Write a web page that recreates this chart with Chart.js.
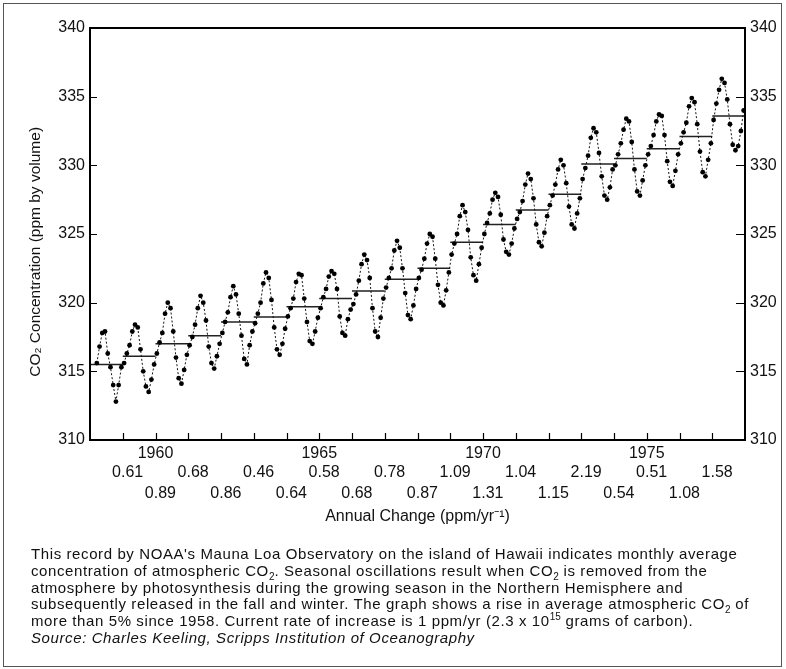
<!DOCTYPE html>
<html lang="en">
<head>
    <meta charset="UTF-8">
    <title>Mauna Loa CO2 Record</title>
    <script src="https://cdn.jsdelivr.net/npm/chart.js"></script>
    <style>
        body { margin: 0; background: #fff; }
        .figure { position: relative; width: 786px; height: 669px; }
        .border { position: absolute; left: 3px; top: 3px; width: 779px; height: 664px; border: 1px solid #555; box-sizing: border-box; }
        #co2Chart { position: absolute; left: 0; top: 0; }
        .caption { position: absolute; left: 31px; top: 546px; font: 15px "Liberation Sans", Arial, sans-serif; letter-spacing: 0.6px; line-height: 16.8px; color: #111; white-space: nowrap; }
        .caption sub, .caption sup { font-size: 10px; line-height: 0; letter-spacing: 0; }
    </style>
</head>
<body>
    <div class="figure">
        <canvas id="co2Chart" width="786" height="669"></canvas>
        <div class="border"></div>
        <div class="caption">
            <div>This record by NOAA's Mauna Loa Observatory on the island of Hawaii indicates monthly average</div>
            <div>concentration of atmospheric CO<sub>2</sub>. Seasonal oscillations result when CO<sub>2</sub> is removed from the</div>
            <div>atmosphere by photosynthesis during the growing season in the Northern Hemisphere and</div>
            <div>subsequently released in the fall and winter. The graph shows a rise in average atmospheric CO<sub>2</sub> of</div>
            <div>more than 5% since 1958. Current rate of increase is 1 ppm/yr (2.3 x 10<sup>15</sup> grams of carbon).</div>
            <div><i>Source: Charles Keeling, Scripps Institution of Oceanography</i></div>
        </div>
    </div>

    <script>
        // monthly means, starting March 1958
        const startYear = 1958;
        const firstMonth = 2;
        const monthlyCO2 = [
            315.6, 316.8, 317.8, 317.9, 316.3, 315.3, 314.0, 312.8, 314.0, 315.3,
            315.6, 316.3, 316.9, 317.9, 318.4, 318.2, 316.6, 315.0, 313.9, 313.5, 314.4, 315.5,
            316.3, 317.1, 317.8, 319.2, 320.0, 319.6, 317.9, 316.0, 314.5, 314.1, 315.1, 316.2,
            316.9, 317.5, 318.4, 319.6, 320.5, 320.0, 318.7, 316.8, 315.6, 315.2, 316.1, 317.0,
            317.8, 318.6, 319.3, 320.4, 321.2, 320.6, 319.2, 317.6, 315.9, 315.5, 316.9, 317.9,
            318.5, 319.2, 320.0, 321.4, 322.2, 321.8, 320.2, 318.2, 316.6, 316.2, 317.0, 318.1,
            319.0, 319.6, 320.3, 321.5, 322.1, 322.0, 320.3, 318.6, 317.2, 317.0, 317.9, 318.9,
            319.6, 320.4, 321.0, 321.9, 322.3, 322.1, 321.0, 319.0, 317.8, 317.6, 318.8, 319.5,
            319.9, 320.6, 321.6, 322.8, 323.5, 323.1, 321.8, 319.6, 317.9, 317.5, 318.9, 320.3,
            321.1, 321.8, 322.5, 323.8, 324.5, 324.0, 322.5, 320.7, 319.1, 318.8, 319.8, 321.0,
            321.8, 322.4, 323.2, 324.3, 325.0, 324.8, 323.2, 321.3, 320.0, 319.8, 320.9, 322.2,
            323.5, 324.3, 325.0, 326.3, 327.1, 326.6, 325.3, 323.3, 322.0, 321.6, 322.8, 324.0,
            325.0, 325.8, 326.5, 327.5, 328.0, 327.7, 326.4, 324.6, 323.7, 323.5, 324.3, 325.4,
            326.1, 326.6, 327.4, 328.6, 329.4, 329.0, 327.6, 325.7, 324.4, 324.1, 325.1, 326.3,
            327.1, 327.8, 328.6, 329.7, 330.4, 330.0, 328.7, 327.0, 325.7, 325.4, 326.5, 327.6,
            329.0, 329.8, 330.7, 332.0, 332.7, 332.4, 330.9, 329.2, 327.8, 327.5, 328.4, 329.7,
            330.0, 330.8, 331.6, 332.6, 333.4, 333.2, 331.7, 329.7, 328.1, 327.8, 328.9, 330.0,
            330.8, 331.4, 332.2, 333.2, 333.7, 333.6, 332.2, 330.3, 328.8, 328.5, 329.6, 330.8,
            331.6, 332.4, 333.1, 334.3, 334.9, 334.6, 333.0, 331.0, 329.5, 329.2, 330.4, 331.6,
            333.3, 334.5, 335.5, 336.3, 336.0, 334.8, 333.0, 331.5, 331.1, 331.4, 332.5, 334.0
        ];

        const meanYears = [1958, 1959, 1960, 1961, 1962, 1963, 1964, 1965, 1966, 1967,
                           1968, 1969, 1970, 1971, 1972, 1973, 1974, 1975, 1976, 1977];
        const annualMean = [315.5, 316.1, 317.0, 317.6, 318.6, 318.95, 319.7, 320.3, 320.85, 321.7,
                            322.5, 324.4, 325.7, 326.75, 327.9, 330.1, 330.5, 331.2, 332.1, 333.6];

        const changeYears = [1959, 1960, 1961, 1962, 1963, 1964, 1965, 1966, 1967, 1968,
                             1969, 1970, 1971, 1972, 1973, 1974, 1975, 1976, 1977];
        const annualChange = [0.61, 0.89, 0.68, 0.86, 0.46, 0.64, 0.58, 0.68, 0.78, 0.87,
                              1.09, 1.31, 1.04, 1.15, 2.19, 0.54, 0.51, 1.08, 1.58];

        const yTicks = [310, 315, 320, 325, 330, 335, 340];
        const yearLabels = [1960, 1965, 1970, 1975];
        const yTitle = 'CO₂ Concentration (ppm by volume)';

        const FONT = '"Liberation Sans", Arial, sans-serif';

        const monthlyPoints = monthlyCO2.map((v, i) => ({ x: startYear + (firstMonth + i + 0.5) / 12, y: v }));
        const meanPoints = [];
        meanYears.forEach((yr, i) => {
            meanPoints.push({ x: yr, y: annualMean[i] });
            meanPoints.push({ x: yr + 1, y: annualMean[i] });
            meanPoints.push({ x: yr + 1, y: null });
        });

        // box around plot + inward tick marks + annual change rows + y title
        const framePlugin = {
            id: 'frame',
            afterDraw(chart) {
                const { ctx, chartArea: a } = chart;
                const xs = chart.scales.x, yl = chart.scales.y, yr = chart.scales.y2;
                ctx.save();
                ctx.strokeStyle = '#000';
                ctx.lineWidth = 2;
                ctx.strokeRect(a.left, a.top, a.right - a.left, a.bottom - a.top);
                ctx.lineWidth = 1.2;
                ctx.beginPath();
                for (let yr2 = 1959; yr2 <= 1977; yr2++) {
                    const px = Math.round(xs.getPixelForValue(yr2)) + 0.5;
                    ctx.moveTo(px, a.bottom);
                    ctx.lineTo(px, a.bottom - 7);
                }
                yTicks.slice(1, -1).forEach(v => {
                    const py = Math.round(yl.getPixelForValue(v)) + 0.5;
                    ctx.moveTo(a.left, py);
                    ctx.lineTo(a.left + 7, py);
                    const py2 = Math.round(yr.getPixelForValue(v)) + 0.5;
                    ctx.moveTo(a.right, py2);
                    ctx.lineTo(a.right - 9, py2);
                });
                ctx.stroke();

                ctx.fillStyle = '#111';
                ctx.font = '16px ' + FONT;
                ctx.textAlign = 'center';
                ctx.textBaseline = 'middle';
                changeYears.forEach((yr2, i) => {
                    const px = xs.getPixelForValue(yr2 + 0.15);
                    const py = i % 2 === 0 ? a.bottom + 33 : a.bottom + 54;
                    ctx.fillText(annualChange[i].toFixed(2), px, py);
                });

                ctx.font = '15.5px ' + FONT;
                ctx.translate(36, yl.getPixelForValue(323.7));
                ctx.rotate(-Math.PI / 2);
                ctx.fillText(yTitle, 0, 0);
                ctx.restore();
            }
        };

        new Chart(document.getElementById('co2Chart'), {
            type: 'line',
            data: {
                datasets: [{
                    label: 'Monthly CO2',
                    data: monthlyPoints,
                    borderColor: '#111',
                    borderWidth: 1,
                    borderDash: [2, 2],
                    pointRadius: 2.4,
                    pointBackgroundColor: '#000',
                    pointBorderWidth: 0,
                    tension: 0
                }, {
                    label: 'Annual mean',
                    data: meanPoints,
                    borderColor: '#222',
                    borderWidth: 1.5,
                    pointRadius: 0,
                    spanGaps: false
                }]
            },
            options: {
                responsive: false,
                animation: false,
                layout: { padding: { top: 28, bottom: 143, left: 0, right: 0 } },
                plugins: { legend: { display: false }, tooltip: { enabled: false } },
                scales: {
                    x: {
                        type: 'linear',
                        min: 1958,
                        max: 1978,
                        grid: { display: false, drawTicks: false },
                        border: { display: false },
                        ticks: {
                            stepSize: 1,
                            autoSkip: false,
                            maxRotation: 0,
                            padding: 4,
                            color: '#111',
                            font: { family: FONT, size: 16 },
                            callback: v => yearLabels.includes(v) ? String(v) : ''
                        },
                        title: {
                            display: true,
                            text: 'Annual Change (ppm/yr⁻¹)',
                            color: '#111',
                            font: { family: FONT, size: 16 },
                            padding: { top: 0, bottom: 0 }
                        },
                        afterFit: s => { s.height = 86; }
                    },
                    y: {
                        position: 'left',
                        min: 310,
                        max: 340,
                        grid: { display: false, drawTicks: false },
                        border: { display: false },
                        ticks: { stepSize: 5, padding: 5, color: '#111', font: { family: FONT, size: 16 } },
                        afterFit: s => { s.width = 90; }
                    },
                    y2: {
                        position: 'right',
                        min: 310,
                        max: 340,
                        grid: { display: false, drawTicks: false },
                        border: { display: false },
                        ticks: { stepSize: 5, padding: 5, color: '#111', font: { family: FONT, size: 16 } },
                        afterFit: s => { s.width = 41; }
                    }
                }
            },
            plugins: [framePlugin]
        });
    </script>
</body>
</html>
